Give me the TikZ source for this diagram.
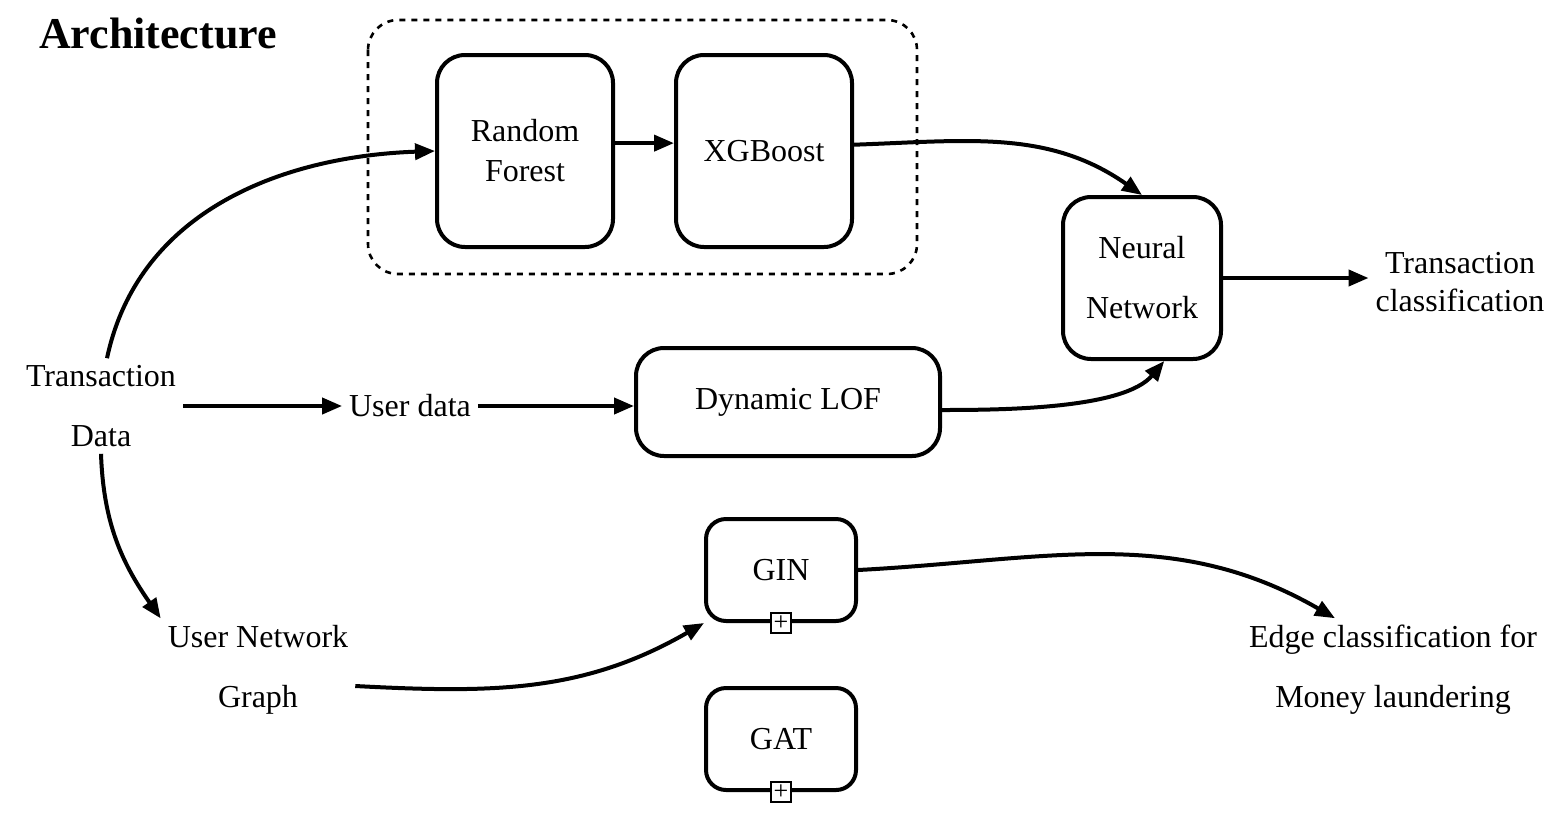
\documentclass[tikz,border=0pt]{standalone}
\usepackage{fontspec}
\setmainfont{Liberation Serif}
\usepackage{tikz}
\usetikzlibrary{arrows.meta}

\begin{document}
\begin{tikzpicture}[x=0.5pt,y=0.5pt]
               \tikzstyle{myBox}=[draw, rounded corners=14pt, line width=2pt, align=center, font=\fontsize{16}{20}\selectfont]
               \tikzstyle{myTxt}=[align=center, font=\fontsize{16}{30}\selectfont]
               \tikzstyle{myArr}=[-{Triangle[length=10pt,width=8pt]}, line width=2pt]
               \tikzstyle{myPlus}=[draw, fill=white, line width=1pt, minimum size=10pt, inner sep=0pt, font=\fontsize{13}{13}\selectfont]

               \useasboundingbox (0,0) rectangle (1556,-825);

               \node[font=\fontsize{22}{22}\selectfont\bfseries, anchor=west] (title) at (32,-34) {Architecture};

               \draw[line width=1.3pt, dash pattern=on 3pt off 3pt, rounded corners=15pt] (368,-20) rectangle (917,-274);

               \node[myBox, minimum width=88pt, minimum height=96pt] (rf) at (525,-151) {Random\\Forest};
               \node[myBox, minimum width=88pt, minimum height=96pt] (xgb) at (764,-151) {XGBoost};
               \node[myBox, minimum width=79pt, minimum height=81pt, font=\fontsize{16}{30}\selectfont] (nn) at (1142,-278) {Neural\\Network};
               \node[myBox, minimum width=152pt, minimum height=54pt] (lof) at (788,-402) {Dynamic LOF};
               \node[myBox, rounded corners=10pt, minimum width=75pt, minimum height=51pt] (gin) at (781,-570) {GIN};
               \node[myBox, rounded corners=10pt, minimum width=75pt, minimum height=51pt] (gat) at (781,-739) {GAT};
               \node[myPlus] (ginplus) at (gin.south) {+};
               \node[myPlus] (gatplus) at (gat.south) {+};

               \node[myTxt] (td) at (101,-406) {Transaction\\Data};
               \node[myTxt] (ud) at (410,-406) {User data};
               \node[myTxt, font=\fontsize{16}{19}\selectfont] (tc) at (1460,-282) {Transaction\\classification};
               \node[myTxt] (ung) at (258,-670) {User Network\\Graph};
               \node[myTxt] (ec) at (1393,-670) {Edge classification for\\Money laundering};

               \draw[myArr] ([xshift=3pt]td.north) to[out=78, in=182] (rf.west);
               \draw[myArr] (rf.5) -- (xgb.175);
               \draw[myArr] (xgb.4) to[out=2, in=145] (nn.north);
               \draw[myArr] (nn.east) -- (nn.east -| tc.west);
               \draw[myArr] (td.east) -- (td.east -| ud.west);
               \draw[myArr] (ud.east) -- (ud.east -| lof.west);
               \draw[myArr] ([yshift=-4pt]lof.east) to[out=0, in=230, looseness=0.7] (nn.-75);
               \draw[myArr] (td.south) to[out=-88, in=125] (ung.north west);
               \draw[myArr] ([yshift=-8pt]ung.east) to[out=-3, in=210] (gin.south west);
               \draw[myArr] (gin.east) to[out=3, in=150] ([xshift=-29pt]ec.north);
            \end{tikzpicture}
\end{document}
